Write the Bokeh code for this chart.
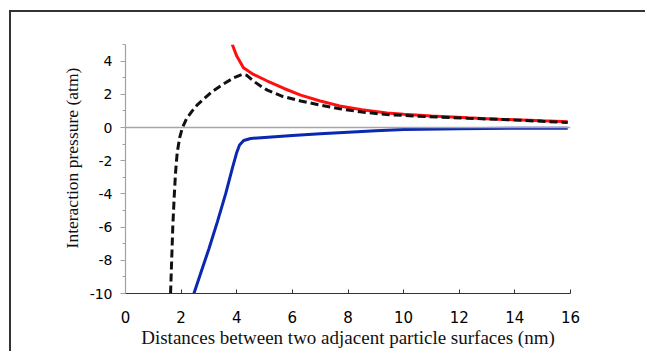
from bokeh.plotting import figure
from bokeh.models import Range1d, Span, FixedTicker
from bokeh.embed import file_html
from bokeh.resources import INLINE

# Red curve (solid)
red_x = [3.84, 4.0, 4.24, 4.6, 5.1, 5.7, 6.3, 7.0, 7.7, 8.5, 9.4, 10.0, 11.0, 12.3, 13.0, 14.0, 15.0, 15.9]
red_y = [5.0, 4.3, 3.6, 3.2, 2.8, 2.35, 1.95, 1.6, 1.3, 1.07, 0.88, 0.8, 0.7, 0.58, 0.53, 0.46, 0.4, 0.35]

# Black dashed curve
blk_x = [1.62, 1.66, 1.70, 1.75, 1.80, 1.86, 1.95, 2.05, 2.2, 2.4, 2.6, 2.8, 3.1, 3.5, 3.9, 4.2, 4.35, 4.6, 4.9, 5.1, 5.6, 6.3, 7.0, 7.7, 8.5, 9.4, 10.5, 12.3, 14.0, 15.9]
blk_y = [-10.0, -8.0, -6.0, -4.2, -2.7, -1.5, -0.6, 0.0, 0.55, 1.0, 1.4, 1.7, 2.15, 2.6, 3.0, 3.2, 3.15, 2.8, 2.45, 2.25, 1.9, 1.6, 1.35, 1.13, 0.93, 0.78, 0.68, 0.56, 0.45, 0.3]

# Blue curve (solid)
blu_x = [2.46, 2.7, 3.0, 3.3, 3.6, 3.85, 4.0, 4.1, 4.25, 4.5, 5.0, 6.0, 7.0, 8.0, 9.0, 10.0, 12.0, 14.0, 15.9]
blu_y = [-10.0, -8.8, -7.3, -5.7, -4.0, -2.4, -1.5, -1.05, -0.78, -0.66, -0.6, -0.48, -0.38, -0.28, -0.19, -0.12, -0.07, -0.05, -0.04]

x_ticks = [0, 2, 4, 6, 8, 10, 12, 14, 16]
y_ticks = [-10, -8, -6, -4, -2, 0, 2, 4]
y_minor = [-9, -7, -5, -3, -1, 1, 3, 5]

x_title = "Distances between two adjacent particle surfaces (nm)"
y_title = "Interaction pressure (atm)"

p = figure(width=636, height=341, output_backend="svg", toolbar_location=None,
           x_range=Range1d(0, 16), y_range=Range1d(-10, 5),
           min_border_left=114, min_border_right=77, min_border_top=32, min_border_bottom=60,
           styles={"margin-left": "9px", "margin-top": "10px",
                   "border-top": "2px solid #333333", "border-left": "2px solid #333333"})
p.outline_line_color = None
p.xgrid.visible = False
p.ygrid.visible = False
p.background_fill_color = "white"
p.border_fill_color = "white"

p.add_layout(Span(location=0, dimension="width", line_color="#a6a6a6", line_width=1.5))

p.line(red_x, red_y, line_color="#ff1010", line_width=3)
p.line(blk_x, blk_y, line_color="#111111", line_width=3, line_dash="8 4")
p.line(blu_x, blu_y, line_color="#0a28b0", line_width=3)

# x axis
xa = p.xaxis[0]
xa.ticker = FixedTicker(ticks=x_ticks)
xa.major_label_overrides = {t: str(t) for t in x_ticks}
xa.axis_line_color = "#333333"
xa.axis_line_width = 1.2
xa.major_tick_in = 4
xa.major_tick_out = 0
xa.major_tick_line_color = "#333333"
xa.minor_tick_line_color = None
xa.major_label_text_font = "DejaVu Sans"
xa.major_label_text_font_size = "15px"
xa.major_label_text_color = "#000000"
xa.major_label_standoff = 17
xa.axis_label = x_title
xa.axis_label_text_font = "Liberation Serif"
xa.axis_label_text_font_size = "19px"
xa.axis_label_text_font_style = "normal"
xa.axis_label_text_color = "#111111"
xa.axis_label_standoff = 1

# y axis
ya = p.yaxis[0]
ya.ticker = FixedTicker(ticks=y_ticks, minor_ticks=y_minor)
ya.major_label_overrides = {t: str(t) for t in y_ticks}
ya.axis_line_color = "#a0a0a0"
ya.axis_line_width = 1.2
ya.major_tick_in = 0
ya.major_tick_out = 5
ya.minor_tick_in = 0
ya.minor_tick_out = 3
ya.major_tick_line_color = "#a0a0a0"
ya.minor_tick_line_color = "#a0a0a0"
ya.major_label_text_font = "DejaVu Sans"
ya.major_label_text_font_size = "14px"
ya.major_label_text_color = "#000000"
ya.major_label_standoff = 8
ya.axis_label = "\u00a0" * 5 + y_title
ya.axis_label_text_font = "Liberation Serif"
ya.axis_label_text_font_size = "17.5px"
ya.axis_label_text_font_style = "normal"
ya.axis_label_text_color = "#111111"
ya.axis_label_standoff = 5

open("out.html", "w").write(file_html(p, INLINE))
